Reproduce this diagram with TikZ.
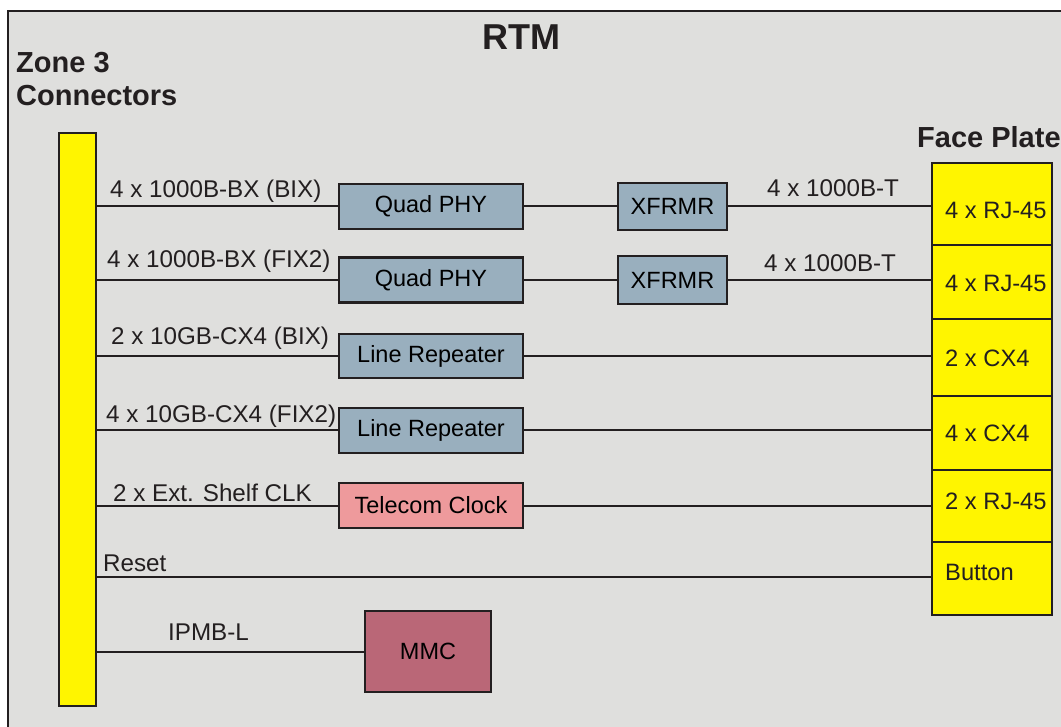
\documentclass[tikz,border=0pt]{standalone}
\usepackage{fontspec}
\setmainfont{Liberation Sans}
\definecolor{bgc}{HTML}{DFDFDD}
\definecolor{linec}{HTML}{231F20}
\definecolor{boxblue}{HTML}{99AFBE}
\definecolor{clockpink}{HTML}{EE9A9C}
\definecolor{mmcc}{HTML}{BA6777}
\definecolor{ylw}{HTML}{FFF500}
\tikzset{
  blk/.style={draw=linec, line width=2.2pt, inner sep=0pt, font=\fontsize{23.5}{28}\selectfont},
  bluebox/.style={blk, fill=boxblue},
  fpcell/.style={draw=linec, line width=2.2pt, fill=ylw, minimum width=120, minimum height=#1, inner sep=0pt},
  lbl/.style={inner sep=0pt, anchor=base west, font=\fontsize{24.2}{28}\selectfont, text=linec},
  fplbl/.style={lbl, font=\fontsize{23.7}{28}\selectfont},
  ttl/.style={inner sep=0pt, font=\bfseries\fontsize{29}{34}\selectfont, text=linec},
  wire/.style={draw=linec, line width=2pt}
}
\begin{document}
\begin{tikzpicture}[x=1pt, y=-1pt]
\useasboundingbox (0,0) rectangle (1061,727);
\fill[white] (0,0) rectangle (1061,727);
\fill[bgc] (8,11) rectangle (1061,727);
\draw[linec, line width=2pt] (8,727) -- (8,11) -- (1061,11);

% titles
\node[ttl, anchor=base, font=\bfseries\fontsize{36}{40}\selectfont] (rtm) at (521,50) {RTM};
\node[ttl, anchor=base west] (zone) at (16,73) {Zone 3};
\node[ttl, anchor=base west] (conn) at (16,106) {Connectors};
\node[ttl, anchor=base west] (fptitle) at (917,148) {Face Plate};

% zone 3 bar
\node[draw=linec, line width=2.2pt, fill=ylw, minimum width=37, minimum height=573, inner sep=0pt] (bar) at (77.5,419.5) {};

% face plate cells
\node[fpcell=82] (fp1) at (992,204) {};
\node[fpcell=74] (fp2) at (992,282) {};
\node[fpcell=77] (fp3) at (992,357.5) {};
\node[fpcell=74] (fp4) at (992,433) {};
\node[fpcell=72] (fp5) at (992,506) {};
\node[fpcell=73] (fp6) at (992,578.5) {};
\node[fplbl] (fpt1) at (945,219) {4 x RJ-45};
\node[fplbl] (fpt2) at (945,292) {4 x RJ-45};
\node[fplbl] (fpt3) at (945,367) {2 x CX4};
\node[fplbl] (fpt4) at (945,442) {4 x CX4};
\node[fplbl] (fpt5) at (945,509) {2 x RJ-45};
\node[fplbl] (fpt6) at (945,580) {Button};

% blocks
\node[bluebox, minimum width=184, minimum height=45] (q1) at (431,206.5) {Quad PHY};
\node[bluebox, minimum width=109, minimum height=47] (x1) at (672.5,206.5) {XFRMR};
\node[bluebox, minimum width=184, minimum height=45] (q2) at (431,280) {Quad PHY};
\node[bluebox, minimum width=109, minimum height=48] (x2) at (672.5,280) {XFRMR};
\node[bluebox, minimum width=184, minimum height=44] (lr1) at (431,356) {Line Repeater};
\node[bluebox, minimum width=184, minimum height=45] (lr2) at (431,430.5) {Line Repeater};
\node[blk, fill=clockpink, minimum width=184, minimum height=45] (tc) at (431,505.5) {Telecom Clock};
\node[blk, fill=mmcc, minimum width=126, minimum height=81] (mmc) at (428,651.5) {MMC};

% connectors
\draw[wire] (bar.east |- q1.west) -- (q1.west);
\draw[wire] (q1.east) -- (x1.west);
\draw[wire] (x1.east) -- (x1.east -| fp1.west);
\draw[wire] (bar.east |- q2.west) -- (q2.west);
\draw[wire] (q2.east) -- (x2.west);
\draw[wire] (x2.east) -- (x2.east -| fp2.west);
\draw[wire] (bar.east |- lr1.west) -- (lr1.west);
\draw[wire] (lr1.east) -- (lr1.east -| fp3.west);
\draw[wire] (bar.east |- lr2.west) -- (lr2.west);
\draw[wire] (lr2.east) -- (lr2.east -| fp4.west);
\draw[wire] (bar.east |- tc.west) -- (tc.west);
\draw[wire] (tc.east) -- (tc.east -| fp5.west);
\coordinate (rst) at (96,577);
\draw[wire] (rst) -- (rst -| fp6.west);
\draw[wire] (bar.east |- mmc.west) -- (mmc.west);

% connector labels
\node[lbl] (l1) at (110,198) {4 x 1000B-BX (BIX)};
\node[lbl] (l2) at (107,268) {4 x 1000B-BX (FIX2)};
\node[lbl] (l3) at (111,345) {2 x 10GB-CX4 (BIX)};
\node[lbl] (l4) at (106,422) {4 x 10GB-CX4 (FIX2)};
\node[lbl] (l5) at (113,501) {2 x Ext. Shelf CLK};
\node[lbl] (l6) at (103,571) {Reset};
\node[lbl] (l7) at (168,640) {IPMB-L};
\node[lbl] (t1) at (767,197) {4 x 1000B-T};
\node[lbl] (t2) at (764,272) {4 x 1000B-T};
\end{tikzpicture}
\end{document}
